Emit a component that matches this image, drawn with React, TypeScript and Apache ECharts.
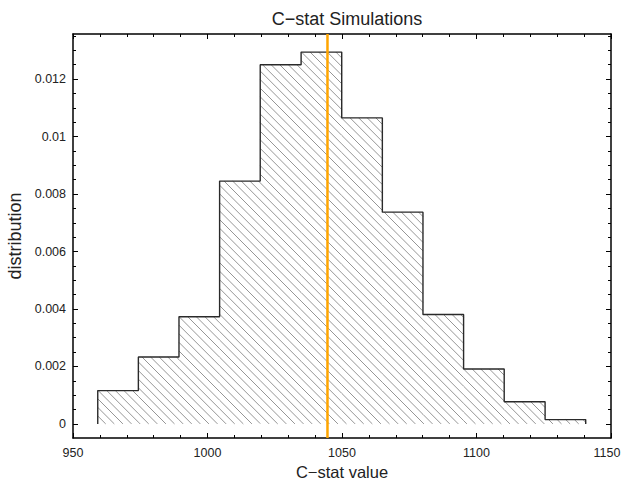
import React, { useEffect, useRef } from "react";
import * as echarts from "echarts";

const binEdges = [959.2, 974.3, 989.4, 1004.5, 1019.6, 1034.8, 1049.9, 1065.0, 1080.1, 1095.2, 1110.3, 1125.5, 1140.6];
const binHeights = [0.00116, 0.00233, 0.00373, 0.00845, 0.0125, 0.01294, 0.01065, 0.00737, 0.00381, 0.00191, 0.00077, 0.00015];
const observedValue = 1044.6;
const yTickValues = [0, 0.002, 0.004, 0.006, 0.008, 0.01, 0.012];
const yMinorTickValues = [0.0005, 0.001, 0.0015, 0.0025, 0.003, 0.0035, 0.0045, 0.005, 0.0055, 0.0065, 0.007, 0.0075, 0.0085, 0.009, 0.0095, 0.0105, 0.011, 0.0115, 0.0125, 0.013, 0.0135];
const xMin = 950;
const xMax = 1150;
const xInterval = 50;
const yMin = -0.00049;
const yMax = 0.01357;

const FONT = "'Liberation Sans', Arial, Helvetica, sans-serif";

export default function App() {
  const ref = useRef<HTMLDivElement>(null);
  useEffect(() => {
    if (!ref.current) return;
    const chart = echarts.init(ref.current, null, { renderer: "svg" });

    const bars = binHeights.map((h, i) => [binEdges[i], binEdges[i + 1], h]);
    const outline: number[][] = [[binEdges[0], 0]];
    binHeights.forEach((h, i) => {
      outline.push([binEdges[i], h]);
      outline.push([binEdges[i + 1], h]);
    });
    outline.push([binEdges[binEdges.length - 1], 0]);

    const axisLine = { show: true, onZero: false, lineStyle: { color: "#000", width: 1.5 } };
    const spacing = 8.6;
    const labelStyle = { fontFamily: FONT, fontSize: 12.5, color: "#222" };

    const xCommon = {
      type: "value",
      min: xMin,
      max: xMax,
      interval: xInterval,
      axisLine,
      splitLine: { show: false },
      axisTick: { show: true, inside: true, length: 5, lineStyle: { color: "#000", width: 1 } },
      minorTick: { show: true, splitNumber: 5, length: 3, lineStyle: { color: "#000", width: 1 } },
    };
    const yCommon = {
      type: "value",
      min: yMin,
      max: yMax,
      axisLine,
      splitLine: { show: false },
    };

    chart.setOption({
      animation: false,
      title: {
        text: "C\u2212stat Simulations",
        left: 342,
        textAlign: "center",
        top: 5,
        textStyle: { fontFamily: FONT, fontSize: 18, fontWeight: "normal", color: "#222" },
      },
      grid: { left: 73, right: 11, top: 34, bottom: 42, containLabel: false, outerBoundsMode: "none" },
      xAxis: [
        {
          ...xCommon,
          position: "bottom",
          name: "C\u2212stat value",
          nameLocation: "middle",
          nameGap: 21,
          nameTextStyle: { fontFamily: FONT, fontSize: 16.5, color: "#222", lineHeight: 17 },
          axisLabel: {
            show: true,
            margin: 8,
            ...labelStyle,
            formatter: (v: number) => (v === xMax ? `{m|${v}}` : String(v)),
            rich: { m: { ...labelStyle, padding: [0, 8, 0, 0] } },
          },
        },
        { ...xCommon, position: "top", axisLabel: { show: false } },
      ],
      yAxis: [
        {
          ...yCommon,
          position: "left",
          name: "distribution",
          nameLocation: "middle",
          nameGap: 42,
          nameTextStyle: { fontFamily: FONT, fontSize: 18, color: "#222" },
          axisTick: { show: true, inside: true, length: 5, customValues: yTickValues, lineStyle: { color: "#000", width: 1 } },
          axisLabel: { show: true, margin: 7, customValues: yTickValues, formatter: (v: number) => String(v), ...labelStyle },
        },
        {
          ...yCommon,
          position: "right",
          axisTick: { show: true, inside: true, length: 5, customValues: yTickValues, lineStyle: { color: "#000", width: 1 } },
          axisLabel: { show: false },
        },
        {
          ...yCommon,
          position: "left",
          axisLine: { show: false },
          axisTick: { show: true, inside: true, length: 3, customValues: yMinorTickValues, lineStyle: { color: "#000", width: 1 } },
          axisLabel: { show: false },
        },
        {
          ...yCommon,
          position: "right",
          axisLine: { show: false },
          axisTick: { show: true, inside: true, length: 3, customValues: yMinorTickValues, lineStyle: { color: "#000", width: 1 } },
          axisLabel: { show: false },
        },
      ],
      series: [
        {
          type: "custom",
          xAxisIndex: 0,
          yAxisIndex: 0,
          data: bars,
          z: 1,
          renderItem: (params: any, api: any) => {
            const p0 = api.coord([api.value(0), 0]);
            const p1 = api.coord([api.value(1), api.value(2)]);
            const x0 = p0[0];
            const x1 = p1[0];
            const yb = p0[1];
            const yt = p1[1];
            const children: any[] = [];
            const cMin = Math.floor((yt - x1) / spacing);
            const cMax = Math.ceil((yb - x0) / spacing);
            for (let k = cMin; k <= cMax; k++) {
              const c = k * spacing;
              const xs = Math.max(x0, yt - c);
              const xe = Math.min(x1, yb - c);
              if (xe - xs > 0.3) {
                children.push({
                  type: "line",
                  shape: { x1: xs, y1: xs + c, x2: xe, y2: xe + c },
                  style: { stroke: "#8a8a8a", lineWidth: 0.9 },
                });
              }
            }
            return { type: "group", children };
          },
        },
        {
          type: "line",
          xAxisIndex: 0,
          yAxisIndex: 0,
          data: outline,
          symbol: "none",
          z: 3,
          lineStyle: { color: "#2a2a2a", width: 1.4 },
        },
        {
          type: "line",
          xAxisIndex: 0,
          yAxisIndex: 0,
          data: [
            [observedValue, yMin],
            [observedValue, yMax],
          ],
          symbol: "none",
          z: 4,
          lineStyle: { color: "#FFA500", width: 2.5 },
        },
      ],
    });
    return () => chart.dispose();
  }, []);
  return <div ref={ref} style={{ position: "fixed", left: 0, top: 0, width: 622, height: 480, background: "#fff" }} />;
}
